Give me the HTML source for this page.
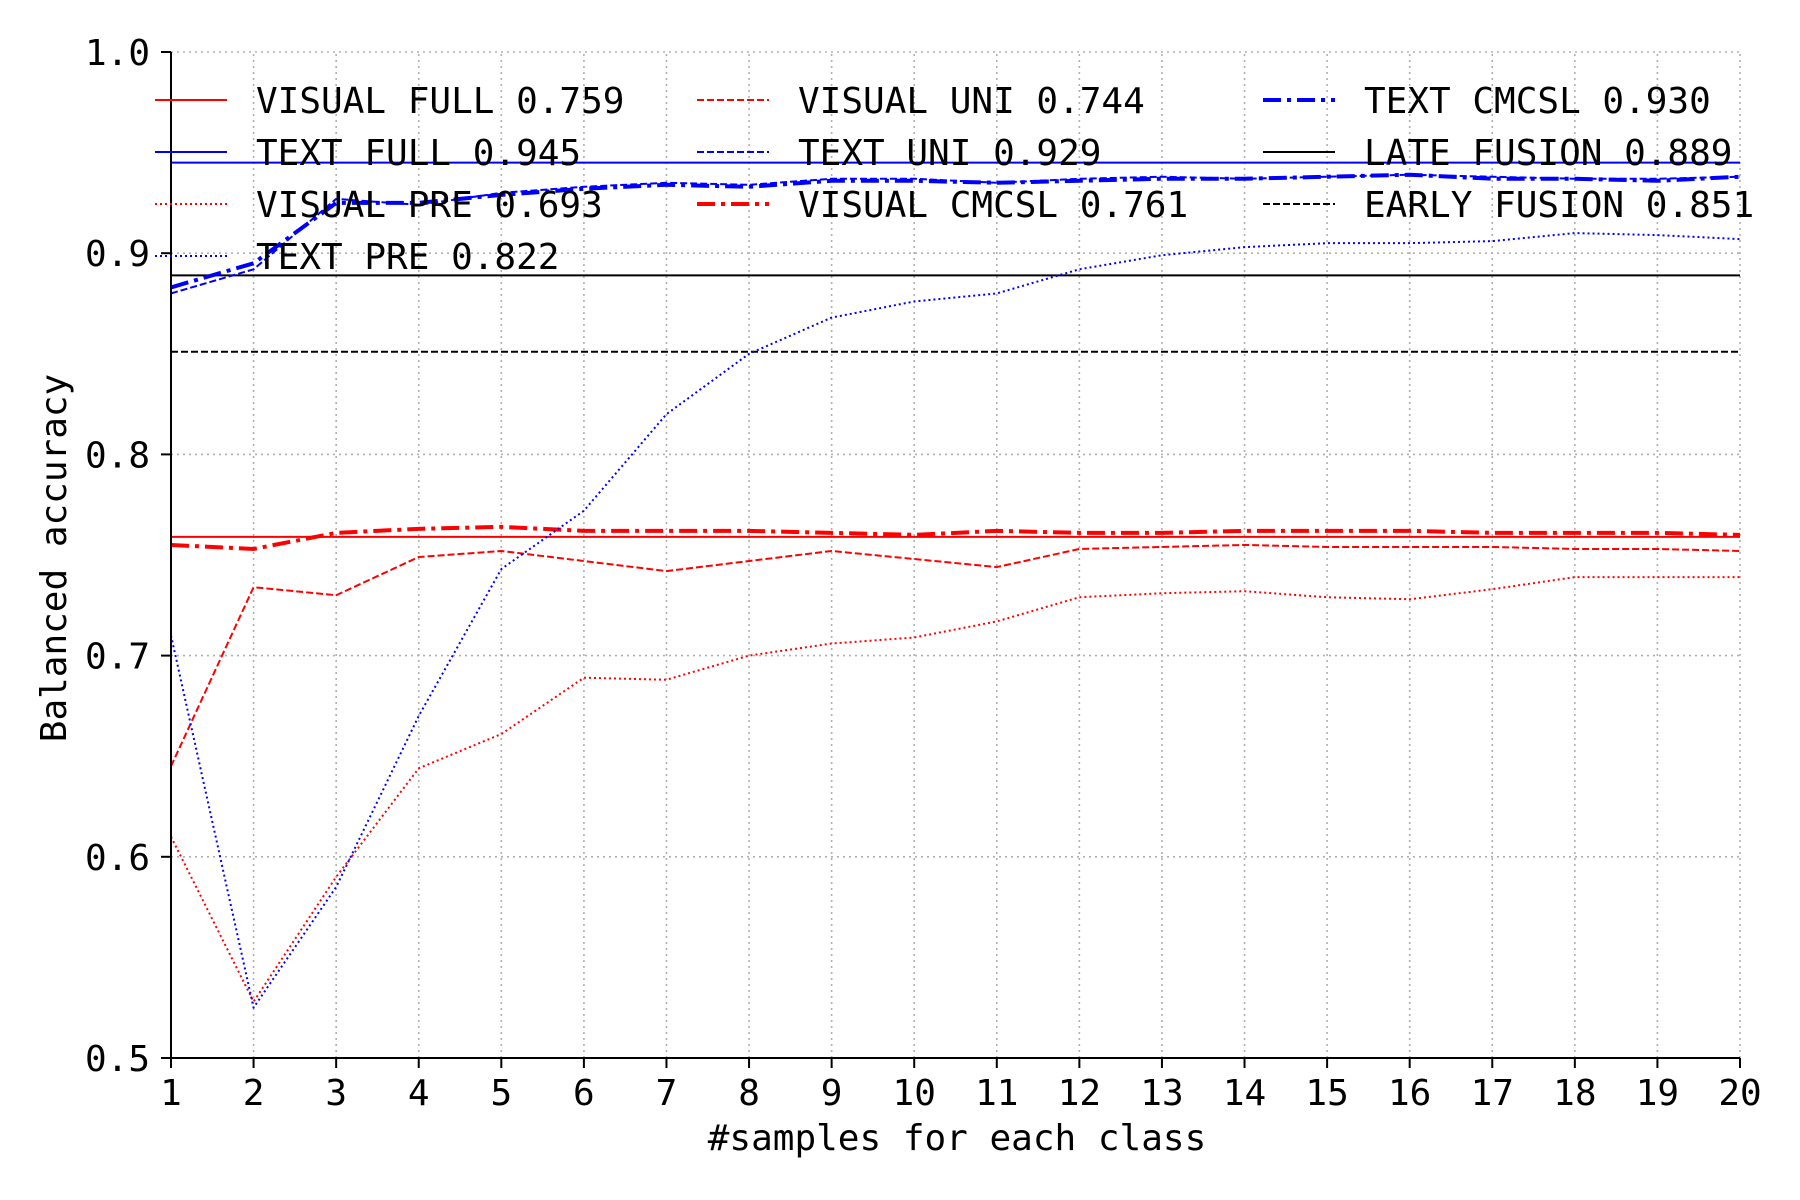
<!DOCTYPE html>
<html><head><meta charset="utf-8"><style>
body{margin:0;background:#fff;}
svg{display:block;font-family:"DejaVu Sans Mono","Liberation Mono",monospace;}
</style></head><body>
<svg id="chart" width="1800" height="1200" viewBox="0 0 1800 1200">
<g id="grid"></g>
<g id="series"></g>
<g id="axes"></g>
<g id="legend"></g>
<text x="66" y="558" font-size="36" text-anchor="middle" transform="rotate(-90 66 558)">Balanced accuracy</text>
<text x="957" y="1150" font-size="36" text-anchor="middle">#samples for each class</text>
</svg>
<script>
const xCategories=[1,2,3,4,5,6,7,8,9,10,11,12,13,14,15,16,17,18,19,20];
const yTicks=[0.5,0.6,0.7,0.8,0.9,1.0];
const yTickLabels=["0.5","0.6","0.7","0.8","0.9","1.0"];
const visualFull=0.759, textFull=0.945, lateFusion=0.889, earlyFusion=0.851;
const textCmcsl=[0.883,0.895,0.925,0.925,0.929,0.932,0.934,0.933,0.936,0.936,0.935,0.936,0.937,0.937,0.938,0.939,0.937,0.937,0.936,0.938];
const textUni=[0.880,0.892,0.927,0.924,0.930,0.933,0.935,0.934,0.937,0.937,0.935,0.937,0.938,0.937,0.938,0.939,0.938,0.937,0.937,0.938];
const textPre=[0.71,0.525,0.585,0.67,0.743,0.772,0.82,0.85,0.868,0.876,0.88,0.892,0.899,0.903,0.905,0.905,0.906,0.910,0.909,0.907];
const visualCmcsl=[0.755,0.753,0.761,0.763,0.764,0.762,0.762,0.762,0.761,0.760,0.762,0.761,0.761,0.762,0.762,0.762,0.761,0.761,0.761,0.760];
const visualUni=[0.645,0.734,0.730,0.749,0.752,0.747,0.742,0.747,0.752,0.748,0.744,0.753,0.754,0.755,0.754,0.754,0.754,0.753,0.753,0.752];
const visualPre=[0.61,0.528,0.59,0.644,0.661,0.689,0.688,0.700,0.706,0.709,0.717,0.729,0.731,0.732,0.729,0.728,0.733,0.739,0.739,0.739];

const NS="http://www.w3.org/2000/svg";
const X0=171,X1=1740,Y0=1058,Y1=52;
function xs(v){return X0+(v-1)/19*(X1-X0);}
function ys(v){return Y0-(v-0.5)/0.5*(Y0-Y1);}
function mk(tag,attrs,parent){const e=document.createElementNS(NS,tag);for(const k in attrs)e.setAttribute(k,attrs[k]);parent.appendChild(e);return e;}
const grid=document.getElementById('grid'),series=document.getElementById('series'),axes=document.getElementById('axes'),legend=document.getElementById('legend');
xCategories.forEach(c=>{
  const l=mk('line',{x1:xs(c),x2:xs(c),y1:Y0,y2:Y1,stroke:'#b0b0b0','stroke-width':1.6,'stroke-dasharray':'2,4'},grid);
  
  
  const t=mk('line',{x1:xs(c),x2:xs(c),y1:Y0,y2:Y0+10,stroke:'#000','stroke-width':2},axes);
  
  
  const tx=mk('text',{x:xs(c),y:Y0+47,'font-size':36,'text-anchor':'middle'},axes);
  tx.textContent=c;
  
  
});
yTicks.forEach((v,i)=>{
  const l=mk('line',{x1:X0,x2:X1,y1:ys(v),y2:ys(v),stroke:'#b0b0b0','stroke-width':1.6,'stroke-dasharray':'2,4'},grid);
  
  
  const t=mk('line',{x1:X0-10,x2:X0,y1:ys(v),y2:ys(v),stroke:'#000','stroke-width':2},axes);
  
  
  const tx=mk('text',{x:X0-21,y:ys(v)+13,'font-size':36,'text-anchor':'end'},axes);
  tx.textContent=yTickLabels[i];
  
  
});
const ax1=mk('line',{x1:X0,x2:X0,y1:Y0,y2:Y1,stroke:'#000','stroke-width':2},axes);


const ax2=mk('line',{x1:X0,x2:X1,y1:Y0,y2:Y0,stroke:'#000','stroke-width':2},axes);



const styles={
 solid:{w:2,d:''},dash:{w:2,d:'7,3'},dot:{w:2,d:'2,3'},dashdot:{w:4,d:'18,6,4,6'}
};
function hline(v,color,st,name){
  const s=styles[st];
  const l=mk('line',{x1:X0,x2:X1,y1:ys(v),y2:ys(v),stroke:color,'stroke-width':s.w,'stroke-dasharray':s.d},series);
  
  
}
function pline(arr,color,st,name){
  const s=styles[st];
  const p=mk('polyline',{points:arr.map((v,i)=>xs(xCategories[i])+','+ys(v)).join(' '),fill:'none',stroke:color,'stroke-width':s.w,'stroke-dasharray':s.d,'stroke-linejoin':'round'},series);
  
  
}
hline(visualFull,'#ff0000','solid','visual-full-line');
hline(textFull,'#0000ff','solid','text-full-line');
hline(lateFusion,'#000','solid','late-fusion-line');
hline(earlyFusion,'#000','dash','early-fusion-line');
pline(visualPre,'#ff0000','dot','visual-pre-line');
pline(visualUni,'#ff0000','dash','visual-uni-line');
pline(visualCmcsl,'#ff0000','dashdot','visual-cmcsl-line');
pline(textPre,'#0000ff','dot','text-pre-line');
pline(textUni,'#0000ff','dash','text-uni-line');
pline(textCmcsl,'#0000ff','dashdot','text-cmcsl-line');

const legendEntries=[
 ['VISUAL FULL 0.759','#ff0000','solid',0,0],['TEXT FULL 0.945','#0000ff','solid',0,1],['VISUAL PRE 0.693','#ff0000','dot',0,2],['TEXT PRE 0.822','#0000ff','dot',0,3],
 ['VISUAL UNI 0.744','#ff0000','dash',1,0],['TEXT UNI 0.929','#0000ff','dash',1,1],['VISUAL CMCSL 0.761','#ff0000','dashdot',1,2],
 ['TEXT CMCSL 0.930','#0000ff','dashdot',2,0],['LATE FUSION 0.889','#000','solid',2,1],['EARLY FUSION 0.851','#000','dash',2,2]
];
const colX=[155,697,1263];
legendEntries.forEach(e=>{
  const x=colX[e[3]],y=100+52*e[4],s=styles[e[2]];
  const g=mk('g',{},legend);
  
  
  mk('line',{x1:x,x2:x+72,y1:y,y2:y,stroke:e[1],'stroke-width':s.w,'stroke-dasharray':s.d},g);
  const t=mk('text',{x:x+101,y:y+13,'font-size':36},g);
  t.textContent=e[0];
});
</script>
</body></html>
